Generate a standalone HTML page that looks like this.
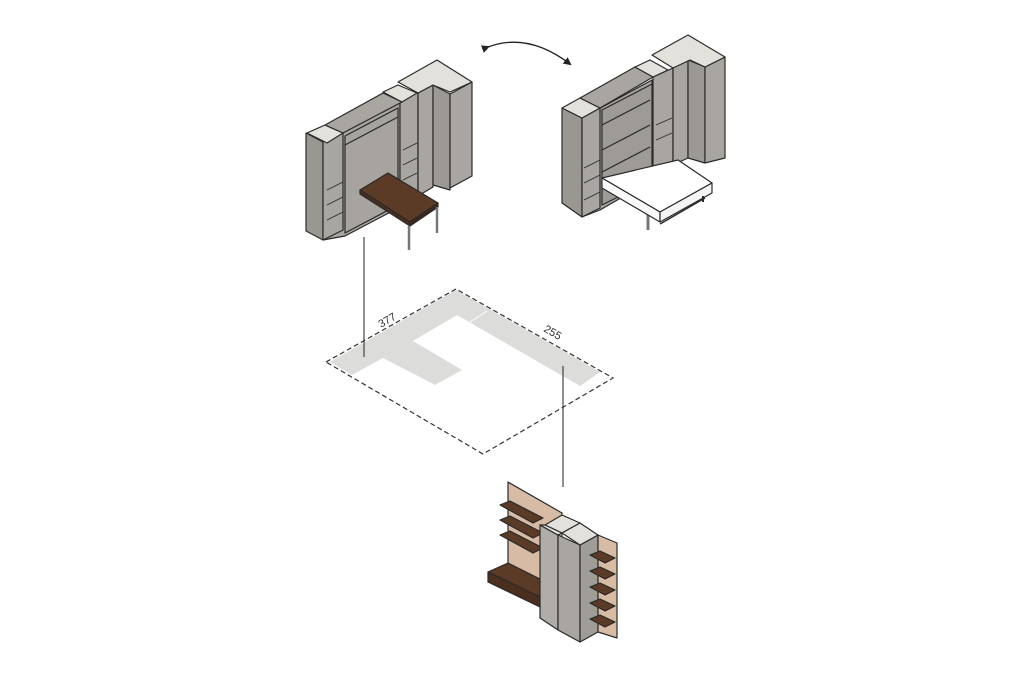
<!DOCTYPE html>
<html><head><meta charset="utf-8"><style>
html,body{margin:0;padding:0;background:#fff;}
svg{display:block;}
</style></head><body>
<svg width="1021" height="680" viewBox="0 0 1021 680" xmlns="http://www.w3.org/2000/svg" font-family="Liberation Sans, sans-serif">
<defs>
<marker id="ah" markerWidth="8" markerHeight="8" refX="6" refY="4" orient="auto" markerUnits="userSpaceOnUse">
<path d="M0,0 L8,4 L0,8 z" fill="#222"/>
</marker>
</defs>
<!-- rotate arrow -->
<path d="M488,47 Q528,32 570,64" fill="none" stroke="#222" stroke-width="1.3" marker-end="url(#ah)" marker-start="url(#ah)"/>

<g stroke="#2a2a2a" stroke-width="1.2" stroke-linejoin="round">
<!-- LEFT UNIT -->
<polygon points="323,142 400,101 400,207 345,236 323,240" fill="#a9a5a0"/>
<polygon points="306,133 323,142 323,240 306,231" fill="#9a9691"/>
<polygon points="323,142 343,132 343,230 323,240" fill="#a9a5a0"/>
<polygon points="345,136 398,108 398,205 345,233" fill="#a7a39e"/>
<line x1="345" y1="145" x2="398" y2="117"/>
<polygon points="400,101 418,92 418,196 400,206" fill="#a9a5a0"/>
<polygon points="418,93 433,85 433,187 418,196" fill="#a9a5a0"/>
<polygon points="433,85 450,94 450,190 433,185" fill="#9c9893"/>
<polygon points="450,94 472,82 472,176 450,188" fill="#a9a5a0"/>
<polygon points="307,133 325,125 343,133 327,143" fill="#e3e1db"/>
<polygon points="325,125 383,93 402,102 343,133" fill="#a9a5a0"/>
<polygon points="383,92 398,85 417,93 402,102" fill="#e3e1db"/>
<polygon points="398,82 437,60 472,82 450,92 433,85 418,93" fill="#e3e1db"/>
<g stroke-width="0.8" fill="none">
<line x1="327" y1="190" x2="343" y2="182"/><line x1="327" y1="205" x2="343" y2="197"/><line x1="327" y1="220" x2="343" y2="212"/>
<line x1="403" y1="150" x2="417" y2="143"/><line x1="403" y1="165" x2="417" y2="158"/><line x1="403" y1="180" x2="417" y2="173"/>
</g>
<!-- desk -->
<polygon points="360,190 388,173 438,203 410,222" fill="#5b3a26"/>
<polygon points="360,190 410,222 410,226 360,194" fill="#4a2e1e"/>
<polygon points="410,222 438,203 438,207 410,226" fill="#3e2618"/>
<line x1="409" y1="226" x2="409" y2="250" stroke-width="2.5" stroke="#777"/>
<line x1="437" y1="207" x2="437" y2="233" stroke-width="2.5" stroke="#777"/>

<!-- RIGHT UNIT -->
<polygon points="582,118 652,80 652,180 600,210 582,217" fill="#a9a5a0"/>
<polygon points="562,108 582,118 582,217 562,203" fill="#9a9691"/>
<polygon points="582,118 600,108 600,208 582,217" fill="#a9a5a0"/>
<polygon points="602,110 652,84 652,180 602,205" fill="#9e9a95"/>
<line x1="602" y1="125" x2="650" y2="100"/><line x1="602" y1="150" x2="650" y2="125"/><line x1="602" y1="172" x2="650" y2="147"/>
<polygon points="653,77 673,68 673,165 653,175" fill="#a9a5a0"/>
<polygon points="673,68 688,60 688,158 673,165" fill="#a9a5a0"/>
<polygon points="688,60 705,67 705,163 688,158" fill="#9c9893"/>
<polygon points="705,67 725,57 725,158 705,163" fill="#a9a5a0"/>
<polygon points="562,108 580,98 600,108 582,118" fill="#e3e1db"/>
<polygon points="580,98 635,67 653,77 600,108" fill="#a9a5a0"/>
<polygon points="635,67 650,60 668,70 653,77" fill="#e3e1db"/>
<polygon points="652,55 688,35 725,57 705,67 690,60 673,68" fill="#e3e1db"/>
<g stroke-width="0.8" fill="none">
<line x1="584" y1="168" x2="600" y2="160"/><line x1="584" y1="183" x2="600" y2="175"/><line x1="584" y1="200" x2="600" y2="192"/>
<line x1="656" y1="125" x2="672" y2="118"/><line x1="656" y1="140" x2="672" y2="133"/>
</g>
<!-- bed -->
<line x1="648" y1="212" x2="648" y2="230" stroke-width="3" stroke="#777"/>
<polygon points="602,178 678,160 712,183 660,212" fill="#fff"/>
<polygon points="602,178 660,212 660,222 602,188" fill="#fafafa"/>
<polygon points="660,212 712,183 712,193 660,222" fill="#f4f4f4"/>
<line x1="660" y1="224" x2="705" y2="198" stroke-width="1.5"/>
<line x1="703" y1="196" x2="703" y2="202" stroke-width="2"/>

<!-- BOTTOM UNIT -->
<polygon points="508,482 562,513 562,615 508,587" fill="#d8bba4"/>
<polygon points="500,505 510,501 543,518 533,523" fill="#5b3a26"/>
<polygon points="500,520 510,516 543,533 533,538" fill="#5b3a26"/>
<polygon points="500,535 510,531 543,548 533,553" fill="#5b3a26"/>
<polygon points="488,572 508,563 558,588 540,597" fill="#5b3a26"/>
<polygon points="488,572 540,597 540,607 488,582" fill="#4a2e1e"/>
<polygon points="540,525 558,535 558,630 540,618" fill="#b0aca7"/>
<polygon points="558,535 580,545 580,642 558,630" fill="#a9a5a0"/>
<polygon points="580,545 598,535 598,632 580,642" fill="#a09c97"/>
<polygon points="598,535 617,543 617,638 598,632" fill="#d8bba4"/>
<polygon points="545,525 562,515 580,523 562,533" fill="#e3e1db"/>
<polygon points="562,533 580,523 598,535 580,545" fill="#e3e1db"/>
<polygon points="540,525 545,525 562,533 558,535" fill="#e3e1db"/>
<g fill="#5b3a26">
<polygon points="590,555 600,551 615,558 605,563"/>
<polygon points="590,571 600,567 615,574 605,579"/>
<polygon points="590,587 600,583 615,590 605,595"/>
<polygon points="590,603 600,599 615,606 605,611"/>
<polygon points="590,619 600,615 615,622 605,627"/>
</g>
</g>

<!-- floor plan -->
<polygon points="330,362 456,290 600,372 580,386 457,315 413,341 462,370 435,385 383,358 352,375" fill="#dcdcdb"/>
<line x1="470" y1="322" x2="487" y2="311" stroke="#fff" stroke-width="1"/>
<polygon points="326,362 456,289 613,378 483,454" fill="none" stroke="#333" stroke-width="1.2" stroke-dasharray="5,3"/>
<text x="0" y="0" font-size="11" fill="#333" transform="translate(381,328) rotate(-30)">377</text>
<text x="0" y="0" font-size="11" fill="#333" transform="translate(543,331) rotate(30)">255</text>

<line x1="364" y1="237" x2="364" y2="357" stroke="#222" stroke-width="1"/>
<line x1="563" y1="366" x2="563" y2="487" stroke="#222" stroke-width="1"/>
</svg>
</body></html>
